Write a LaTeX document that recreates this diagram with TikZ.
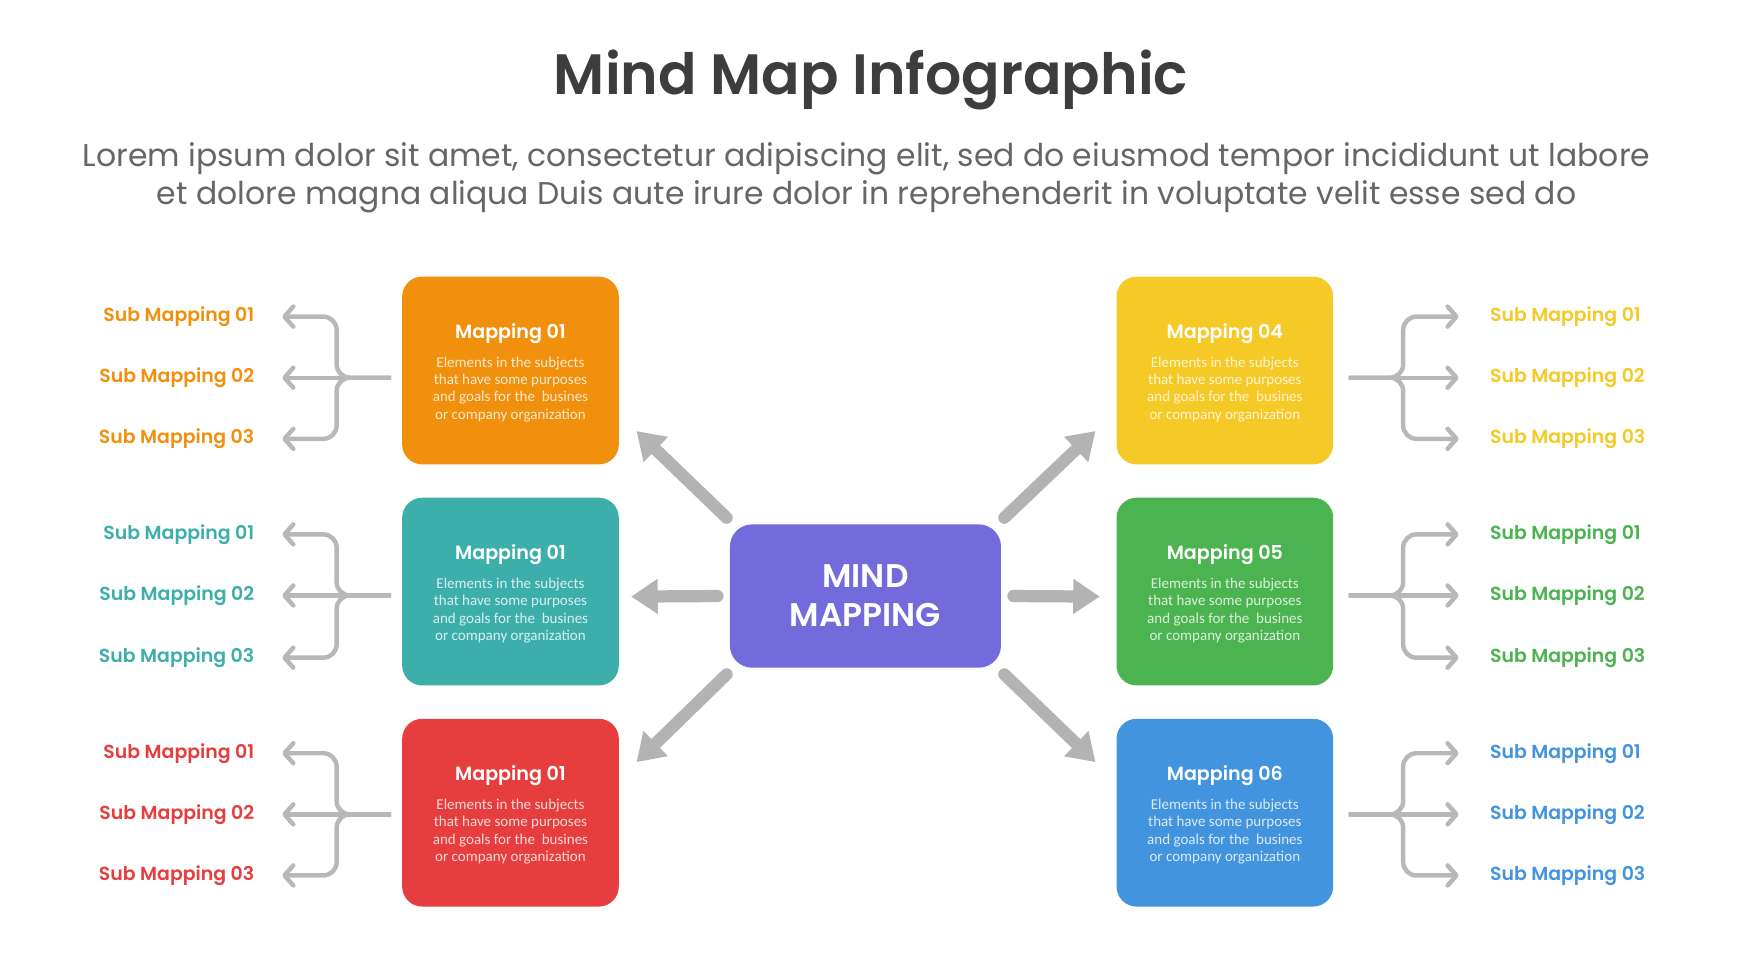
\documentclass[tikz,border=0pt]{standalone}
\usepackage{fontspec}
\setmainfont{Poppins}[BoldFont={Poppins SemiBold}]
\newfontfamily\bodyfont{Carlito}
\usetikzlibrary{arrows.meta}
\definecolor{cOrange}{HTML}{F0900C}
\definecolor{cTeal}{HTML}{3DAFAB}
\definecolor{cRed}{HTML}{E63E3E}
\definecolor{cYellow}{HTML}{F5C926}
\definecolor{cGreen}{HTML}{4CB351}
\definecolor{cBlue}{HTML}{4394DE}
\definecolor{cPurple}{HTML}{736ADB}
\definecolor{cTitle}{HTML}{3D3D3D}
\definecolor{cSub}{HTML}{666666}
\definecolor{cArrow}{HTML}{B3B3B3}
\definecolor{cConn}{HTML}{B8B8B8}
\tikzset{
  mbox/.style={rounded corners=18pt, minimum width=195pt, minimum height=169pt, inner sep=0pt, fill=#1, draw=none},
  mtitle/.style={text=white, font=\fontsize{17.2}{20}\selectfont\bfseries, inner sep=0pt},
  mbody/.style={text=white, text opacity=0.8, align=center, font=\bodyfont\fontsize{13.5}{15.5}\selectfont, inner sep=0pt},
  sublab/.style={text=#1, font=\fontsize{17}{20}\selectfont\bfseries, inner sep=0pt},
  subarr/.style={draw=cConn, line width=4pt, rounded corners=12pt, -{Straight Barb[length=8pt,width=18pt,round]}},
  bigarr/.style={draw=cArrow, line width=11pt, line cap=round, -{Triangle[width=30pt,length=24pt]}},
}
\newcommand{\bodytext}{Elements in the subjects\\that have some purposes\\and goals for the\ \ busines\\or company organization}
\begin{document}
\begin{tikzpicture}[x=1pt,y=-1pt]
\useasboundingbox[fill=white] (0,0) rectangle (1568,882);
% title
\node[text=cTitle, font=\fontsize{51.2}{56}\selectfont\bfseries, inner sep=0pt] (title) at (784,72) {Mind Map Infographic};
\node[text=cSub, font=\fontsize{28.3}{34.5}\selectfont, align=center, inner sep=0pt] (subtitle) at (780,160)
  {Lorem ipsum dolor sit amet, consectetur adipiscing elit, sed do eiusmod tempor incididunt ut labore\\et dolore magna aliqua Duis aute irure dolor in reprehenderit in voluptate velit esse sed do};
% center
\node[fill=cPurple, rounded corners=20pt, minimum width=244pt, minimum height=129pt, inner sep=0pt,
  text=white, align=center, font=\fontsize{29.5}{35}\selectfont\bfseries] (center) at (779,536.5) {MIND\\MAPPING};
% boxes
\foreach \n/\x/\y/\c/\t in {1/459.5/333.5/cOrange/Mapping 01, 2/459.5/532.5/cTeal/Mapping 01, 3/459.5/731.5/cRed/Mapping 01,
  4/1102.5/333.5/cYellow/Mapping 04, 5/1102.5/532.5/cGreen/Mapping 05, 6/1102.5/731.5/cBlue/Mapping 06}{
  \node[mbox=\c] (m\n) at (\x,\y) {};
  \node[mtitle] (m\n t) at ([yshift=33.5pt]m\n.center) {\t};
  \node[mbody] (m\n b) at ([yshift=-17pt]m\n.center) {\bodytext};
}
% big arrows
\draw[bigarr] (center.west) ++(-11,0) coordinate (a1s) -- (568,537) coordinate (a1e);
\draw[bigarr] (center.east) ++(11,0) coordinate (a2s) -- (990,537) coordinate (a2e);
\coordinate (a3s) at (654,466); \coordinate (a3e) at (573,388);
\coordinate (a4s) at (904,466); \coordinate (a4e) at (986,388);
\coordinate (a5s) at (654,607); \coordinate (a5e) at (573,686);
\coordinate (a6s) at (904,607); \coordinate (a6e) at (986,686);
\draw[bigarr] (a3s) -- (a3e);
\draw[bigarr] (a4s) -- (a4e);
\draw[bigarr] (a5s) -- (a5e);
\draw[bigarr] (a6s) -- (a6e);
% left sub labels and connectors
\foreach \n/\c/\ya/\yb/\yc in {1/cOrange/285/340/395, 2/cTeal/481/536/592, 3/cRed/678/733/788}{
  \node[sublab=\c, anchor=east] (s\n1) at (229,\ya) {Sub Mapping 01};
  \node[sublab=\c, anchor=east] (s\n2) at (229,\yb) {Sub Mapping 02};
  \node[sublab=\c, anchor=east] (s\n3) at (229,\yc) {Sub Mapping 03};
  \coordinate (st\n) at (352,\yb);
  \coordinate (j\n) at (303,\yb);
  \draw[subarr] (st\n) -| (j\n |- s\n1.east) -- ([xshift=25pt]s\n1.east);
  \draw[subarr] (st\n) -- ([xshift=25pt]s\n2.east);
  \draw[subarr] (st\n) -| (j\n |- s\n3.east) -- ([xshift=25pt]s\n3.east);
}
% right sub labels and connectors
\foreach \n/\c/\ya/\yb/\yc in {4/cYellow/285/340/395, 5/cGreen/481/536/592, 6/cBlue/678/733/788}{
  \node[sublab=\c, anchor=west] (s\n1) at (1341,\ya) {Sub Mapping 01};
  \node[sublab=\c, anchor=west] (s\n2) at (1341,\yb) {Sub Mapping 02};
  \node[sublab=\c, anchor=west] (s\n3) at (1341,\yc) {Sub Mapping 03};
  \coordinate (st\n) at (1214,\yb);
  \coordinate (j\n) at (1263,\yb);
  \draw[subarr] (st\n) -| (j\n |- s\n1.west) -- ([xshift=-28pt]s\n1.west);
  \draw[subarr] (st\n) -- ([xshift=-28pt]s\n2.west);
  \draw[subarr] (st\n) -| (j\n |- s\n3.west) -- ([xshift=-28pt]s\n3.west);
}
\end{tikzpicture}
\end{document}
